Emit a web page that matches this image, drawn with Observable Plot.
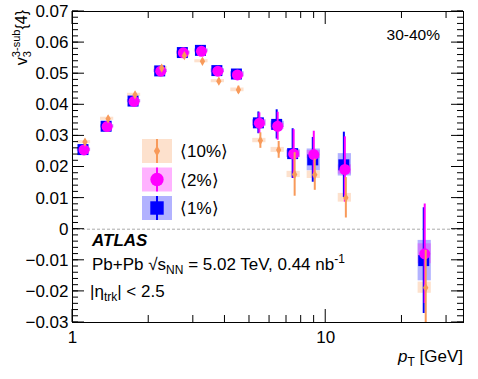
<!DOCTYPE html>
<html><head><meta charset="utf-8">
<script src="https://cdn.jsdelivr.net/npm/d3@7"></script>
<script src="https://cdn.jsdelivr.net/npm/@observablehq/plot@0.6"></script>
<style>body{margin:0;background:#fff}</style>
</head><body><div id="chart"></div>
<script>
// pT bin centres [GeV]
const pt = [1.11, 1.37, 1.75, 2.23, 2.74, 3.23, 3.75, 4.48, 5.47, 6.46, 7.47, 8.97, 11.9, 24.6];
// <1%> (blue squares)
const v1    = [0.0256,0.0331,0.0412,0.0509,0.0568,0.0575,0.0510,0.0499,0.0342,0.0337,0.0243,0.0223,0.0207,-0.0101];
const stat1 = [0.0004,0.0004,0.0004,0.0004,0.0005,0.0006,0.0008,0.0012,0.0035,0.0047,0.0080,0.0072,0.0105,0.0170];
const sys1  = [0.0005,0.0005,0.0005,0.0005,0.0005,0.0005,0.0006,0.0008,0.0010,0.0010,0.0012,0.0035,0.0036,0.0065];
// <2%> (magenta circles)
const v2    = [0.0255,0.0330,0.0411,0.0508,0.0567,0.0572,0.0508,0.0496,0.0341,0.0331,0.0242,0.0240,0.0192,-0.0079];
const stat2 = [0.0004,0.0004,0.0004,0.0004,0.0005,0.0006,0.0008,0.0012,0.0033,0.0045,0.0078,0.0075,0.0105,0.0160];
const sys2  = [0.0005,0.0005,0.0005,0.0005,0.0005,0.0005,0.0006,0.0008,0.0010,0.0010,0.0012,0.0013,0.0015,0.0032];
// <10%> (orange diamonds)
const v10    = [0.0280,0.0355,0.0432,0.0518,0.0558,0.0540,0.0476,0.0448,0.0285,0.0255,0.0176,0.0175,0.0101,-0.0188];
const stat10 = [0.0008,0.0008,0.0008,0.0007,0.0007,0.0007,0.0008,0.0012,0.0025,0.0027,0.0070,0.0050,0.0065,0.0120];
const sys10  = [0.0005,0.0005,0.0005,0.0005,0.0005,0.0005,0.0005,0.0006,0.0007,0.0008,0.0010,0.0012,0.0014,0.0018];

const yTicks = [-0.03,-0.02,-0.01,0,0.01,0.02,0.03,0.04,0.05,0.06,0.07];
const yTickLabels = ["\u22120.03","\u22120.02","\u22120.01","0","0.01","0.02","0.03","0.04","0.05","0.06","0.07"];
const xTicks = [1, 10];
const xTickLabels = ["1", "10"];
const xMinor = [2,3,4,5,6,7,8,9,20,30];
const yMinor = d3.range(-30, 71, 2).map(v => v / 1000);

const seriesNames = ["\u27e810%\u27e9", "\u27e82%\u27e9", "\u27e81%\u27e9"];
const cBlue = "#0000ff", cMag = "#ff00ff", cOr = "#f89a5a";

const W = 478, H = 379, mL = 72, mR = 15, mT = 11, mB = 57;
const xDom = [1, 35], yDom = [-0.03, 0.07];

const build = (vals, stat, sys) => pt.map((x, i) => ({x, y: vals[i], stat: stat[i], sys: sys[i]}));
const s1 = build(v1, stat1, sys1), s2 = build(v2, stat2, sys2), s10 = build(v10, stat10, sys10);
const bw = 1.062;
const yLab = new Map(yTicks.map((t, i) => [t, yTickLabels[i]]));
const xLab = new Map(xTicks.map((t, i) => [t, xTickLabels[i]]));

const box = (s, c) => Plot.rect(s, {x1: d => d.x / bw, x2: d => d.x * bw, y1: d => d.y - d.sys, y2: d => d.y + d.sys, fill: c, fillOpacity: 0.3});
const err = (s, c, dx) => Plot.ruleX(s, {x: "x", y1: d => d.y - d.stat, y2: d => d.y + d.stat, stroke: c, strokeWidth: 2, dx, clip: true});

const plot = Plot.plot({
  width: W, height: H,
  marginLeft: mL, marginRight: mR, marginTop: mT, marginBottom: mB,
  style: {fontFamily: "'Liberation Sans', Arial, sans-serif", fontSize: "17px", background: "#fff", color: "#000"},
  x: {type: "log", domain: xDom},
  y: {domain: yDom},
  marks: [
    Plot.ruleY([0], {stroke: "#aaa", strokeDasharray: "3,2", strokeWidth: 1}),
    box(s1, cBlue), box(s2, cMag), box(s10, cOr),
    err(s1, cBlue, -1),
    Plot.dot(s1, {x: "x", y: "y", symbol: "square", r: 6.2, fill: cBlue, dx: -1}),
    err(s2, cMag, 0),
    Plot.dot(s2, {x: "x", y: "y", symbol: "circle", r: 5.5, fill: cMag}),
    err(s10, cOr, 1),
    Plot.dot(s10, {x: "x", y: "y", symbol: "diamond", r: 2.8, fill: cOr, dx: 1}),
    Plot.axisY(yTicks, {anchor: "left", label: null, tickSize: 0, tickPadding: 4, tickFormat: d => yLab.get(d), fontSize: 17}),
    Plot.axisX(xTicks, {anchor: "bottom", label: null, tickSize: 0, tickPadding: 8, tickFormat: d => xLab.get(d), fontSize: 17}),
    Plot.frame({stroke: "#000", strokeWidth: 1})
  ]
});
document.getElementById("chart").append(plot);

const svg = d3.select(plot);
const xs = plot.scale("x"), ys = plot.scale("y");
const x0 = xs.apply(xDom[0]), x1 = xs.apply(xDom[1]);
const y0 = ys.apply(yDom[0]), y1 = ys.apply(yDom[1]);
const tg = svg.append("g").attr("stroke", "#000").attr("stroke-width", 1);
const hTick = (v, len) => {
  const y = ys.apply(v);
  tg.append("line").attr("x1", x0).attr("x2", x0 + len).attr("y1", y).attr("y2", y);
  tg.append("line").attr("x1", x1 - len).attr("x2", x1).attr("y1", y).attr("y2", y);
};
const vTick = (v, len) => {
  const x = xs.apply(v);
  tg.append("line").attr("x1", x).attr("x2", x).attr("y1", y0).attr("y2", y0 - len);
  tg.append("line").attr("x1", x).attr("x2", x).attr("y1", y1).attr("y2", y1 + len);
};
yMinor.forEach(v => hTick(v, 6));
yTicks.forEach(v => hTick(v, 12));
xMinor.forEach(v => vTick(v, 7));
xTicks.forEach(v => vTick(v, 13));

const T = (x, y, opts = {}) => svg.append("text").attr("x", x).attr("y", y)
  .attr("text-anchor", opts.anchor || "start").style("font-size", (opts.size || 17) + "px")
  .style("font-weight", opts.weight || "normal").style("font-style", opts.style || "normal").attr("fill", "#000");

// y title
const yt = svg.append("text").attr("transform", "translate(27,10) rotate(-90)").attr("text-anchor", "end").style("font-size", "16px");
yt.append("tspan").text("v");
yt.append("tspan").style("font-size", "11px").attr("dy", 4).text("3");
yt.append("tspan").style("font-size", "11px").attr("dx", -6).attr("dy", -11).text("3-sub");
yt.append("tspan").attr("dy", 7).text("{4}");

// x title
const xt = T(463, 362, {anchor: "end"});
xt.append("tspan").style("font-style", "italic").text("p");
xt.append("tspan").style("font-size", "12px").attr("dy", 4).text("T");
xt.append("tspan").attr("dy", -4).text(" [GeV]");

T(440, 40, {anchor: "end", size: 15.5}).text("30-40%");
T(92, 246, {weight: "bold", style: "italic"}).text("ATLAS");
const l2 = T(92, 270);
l2.append("tspan").text("Pb+Pb \u221a");
l2.append("tspan").text("s");
l2.append("tspan").style("font-size", "12px").attr("dy", 4).text("NN");
l2.append("tspan").attr("dy", -4).text(" = 5.02 TeV, 0.44 nb");
l2.append("tspan").style("font-size", "12px").attr("dy", -7).text("-1");
const l3 = T(90, 297);
l3.append("tspan").text("|\u03b7");
l3.append("tspan").style("font-size", "12px").attr("dy", 4).text("trk");
l3.append("tspan").attr("dy", -4).text("| < 2.5");

// legend
const leg = [
  {name: seriesNames[0], c: cOr, sym: d3.symbolDiamond, size: 34, y: 151},
  {name: seriesNames[1], c: cMag, sym: d3.symbolCircle, size: 140, y: 179.5},
  {name: seriesNames[2], c: cBlue, sym: d3.symbolSquare, size: 180, y: 208}
];
leg.forEach(e => {
  svg.append("rect").attr("x", 142).attr("y", e.y - 12).attr("width", 30).attr("height", 24).attr("fill", e.c).attr("fill-opacity", 0.3);
  svg.append("line").attr("x1", 157).attr("x2", 157).attr("y1", e.y - 12).attr("y2", e.y + 12).attr("stroke", e.c).attr("stroke-width", 2);
  svg.append("path").attr("d", d3.symbol(e.sym, e.size)()).attr("transform", `translate(157,${e.y})`).attr("fill", e.c);
  T(180, e.y + 6).text(e.name);
});
</script></body></html>
